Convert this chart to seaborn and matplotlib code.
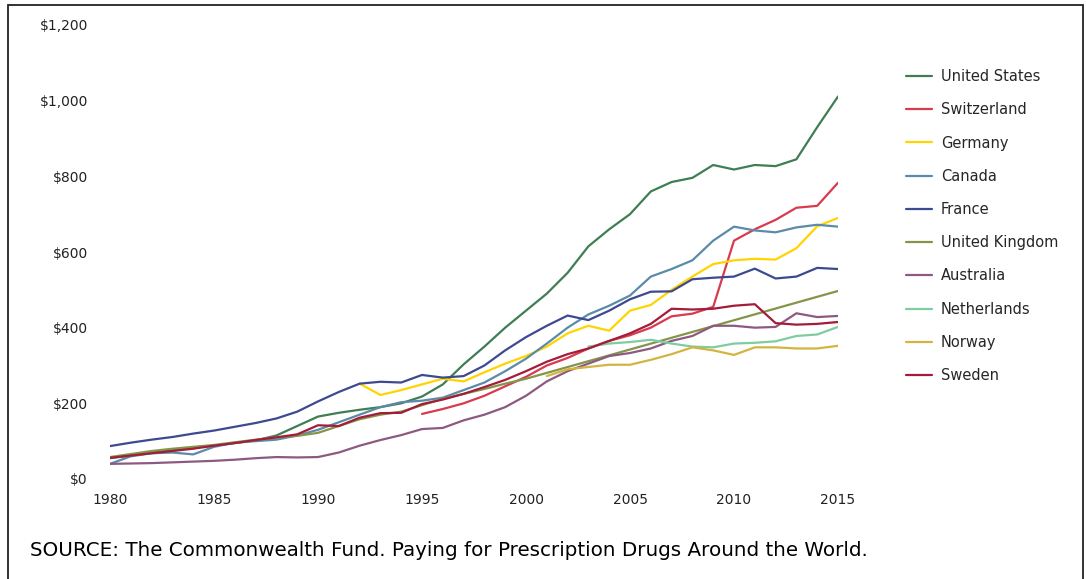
import matplotlib
matplotlib.use("Agg")
import matplotlib.pyplot as plt
import seaborn as sns
import pandas as pd

# per capita spending on prescription drugs, 1980-2015
years = list(range(1980, 2016))
N = None

united_states = [55, 62, 70, 77, 83, 88, 95, 102, 115, 140, 165, 175, 183, 190, 200, 218,
                 250, 303, 350, 400, 445, 490, 545, 615, 660, 700, 760, 785, 796, 830,
                 818, 830, 827, 845, 930, 1011]
switzerland = [N] * 15 + [172, 185, 200, 220, 245, 270, 300, 320, 345, 365, 380, 400, 430,
                          437, 455, 630, 660, 685, 717, 722, 783]
germany = [N] * 12 + [252, 222, 235, 250, 265, 258, 282, 305, 325, 350, 385, 405, 392, 445,
                      460, 500, 535, 568, 578, 582, 580, 610, 668, 690]
canada = [40, 60, 68, 70, 65, 85, 96, 100, 104, 115, 130, 150, 170, 190, 203, 207, 215, 235,
          255, 285, 318, 358, 400, 435, 458, 485, 535, 555, 578, 630, 667, 657, 652, 665,
          672, 667]
france = [87, 96, 104, 111, 120, 128, 138, 148, 160, 178, 205, 230, 252, 257, 255, 275, 268,
          272, 300, 340, 375, 405, 432, 420, 445, 475, 495, 496, 528, 532, 535, 556, 530,
          535, 558, 555]
united_kingdom = [58, 66, 74, 80, 85, 90, 97, 104, 110, 114, 122, 140, 158, 170, 178, 195,
                  212, 225, 238, 252, 265] + [N] * 14 + [497]
australia = [40, 41, 42, 44, 46, 48, 51, 55, 58, 57, 58, 70, 88, 103, 116, 132, 135, 155,
             170, 190, 220, 258, 285, 305, 325, 333, 345, 365, 378, 405, 405, 400, 402, 438,
             428, 431]
netherlands = [N] * 23 + [350, 358, 362, 368, 358, 350, 348, 358, 360, 364, 378, 382, 402]
norway = [N] * 21 + [272, 290, 296, 302, 302, 315, 330, 348, 340, 328, 348, 348, 345, 345, 352]
sweden = [56, 62, 68, 74, 80, 88, 95, 103, 110, 118, 142, 140, 162, 174, 175, 198, 210, 225,
          243, 262, 285, 310, 330, 345, 365, 385, 410, 450, 448, 450, 458, 462, 412, 408,
          410, 415]

countries = ["United States", "Switzerland", "Germany", "Canada", "France",
             "United Kingdom", "Australia", "Netherlands", "Norway", "Sweden"]
series = [united_states, switzerland, germany, canada, france,
          united_kingdom, australia, netherlands, norway, sweden]
colors = ["#3f7d55", "#d83a4e", "#ffd400", "#5b8ba8", "#3d4a8f",
          "#84954a", "#8c5a80", "#7fcca0", "#d4b440", "#a31d3a"]

df = pd.DataFrame({c: s for c, s in zip(countries, series)}, index=years)
df.index.name = "year"
long = df.reset_index().melt(id_vars="year", var_name="country", value_name="spend").dropna()

sns.set_style("white")
plt.rcParams["font.family"] = ["DejaVu Sans"]

fig = plt.figure(figsize=(10.86, 5.79), dpi=100)
ax = fig.add_axes([110 / 1086, 1 - 479 / 579, (838 - 110) / 1086, (479 - 25) / 579])

sns.lineplot(data=long, x="year", y="spend", hue="country", hue_order=countries,
             palette=dict(zip(countries, colors)), linewidth=1.6, ax=ax)

ax.set_xlim(1980, 2015)
ax.set_ylim(0, 1200)
ax.set_xticks(range(1980, 2016, 5))
ax.set_yticks(range(0, 1201, 200))
ax.set_yticklabels(["$0", "$200", "$400", "$600", "$800", "$1,000", "$1,200"])
ax.tick_params(axis="y", length=0, pad=16, labelsize=10, colors="#222222")
ax.tick_params(axis="x", length=0, pad=10, labelsize=10, colors="#222222")
ax.set_xlabel("")
ax.set_ylabel("")
for sp in ax.spines.values():
    sp.set_visible(False)

ax.legend(loc="upper left", bbox_to_anchor=(893 / 1086, 1 - 56 / 579),
          bbox_transform=fig.transFigure, frameon=False, fontsize=10.5,
          labelspacing=1.25, handlelength=1.8, handletextpad=0.6)

fig.text(30 / 1086, 1 - 551 / 579,
         "SOURCE: The Commonwealth Fund. Paying for Prescription Drugs Around the World.",
         fontsize=14.3, va="center", ha="left", color="black")

# thin frame round the picture
fig.add_artist(plt.Rectangle((8 / 1086, -0.02), (1083 - 8) / 1086, 1.02 - 5 / 579,
                             fill=False, lw=1.3, edgecolor="#222222",
                             transform=fig.transFigure))

fig.savefig("out.png", dpi=100)
